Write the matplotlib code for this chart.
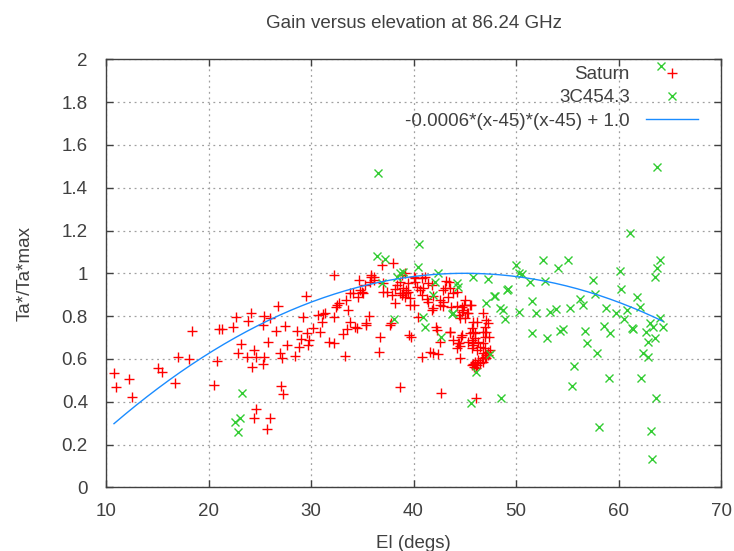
import numpy as np
import matplotlib
matplotlib.use("Agg")
import matplotlib.pyplot as plt

plt.rcParams['font.family'] = ['Liberation Sans', 'DejaVu Sans']

title = "Gain versus elevation at 86.24 GHz"
xlabel = "El (degs)"
ylabel = "Ta*/Ta*max"
label_saturn = "Saturn"
label_3c = "3C454.3"
label_fit = "-0.0006*(x-45)*(x-45) + 1.0"

saturn_el = [
    10.78, 10.98, 12.27, 12.5, 15.1, 15.5, 16.7, 17.0, 18.1, 18.4, 20.57, 20.8, 21.05, 21.3,
    22.4, 22.65, 22.9, 23.2, 23.8, 23.85, 24.1, 24.2, 24.44, 24.6, 24.6, 24.44, 25.3, 25.35,
    25.4, 25.4, 25.8, 26.0, 25.7, 26.0, 26.6, 26.8, 27.0, 27.2, 27.07, 27.3, 27.5, 27.7,
    28.4, 28.6, 28.8, 29.0, 29.25, 29.5, 29.6, 29.7,
    32.27, 30.2, 29.8, 30.7, 30.9, 31.2, 31.4, 31.05, 31.8, 32.2, 32.2, 32.4, 32.5, 32.76,
    33.4, 33.8, 34.1, 33.6, 33.8, 33.5, 33.1, 33.3, 34.3, 34.5, 34.8, 34.94, 35.04, 34.6,
    34.7, 35.27, 35.4, 35.66, 35.85, 35.9, 36.1, 35.8, 36.1, 36.7, 36.6, 36.9, 37.05, 37.05,
    37.44, 38.0, 38.2, 38.36, 38.2, 37.7, 37.85, 38.7, 38.84, 39.17, 38.7, 39.0, 39.27, 39.5,
    39.3, 39.6, 35.4, 37.9, 38.7,
    39.17, 38.84, 39.5, 40.0, 40.15, 40.3, 40.8, 41.1, 40.6, 40.96, 41.3, 41.45, 41.9, 41.87,
    40.47, 39.8, 40.8, 41.6, 41.9, 42.4, 42.2, 42.6, 42.9, 43.2, 43.5, 43.4, 43.56, 43.9,
    44.2, 42.9, 43.7, 43.56, 43.9, 44.3, 44.5, 44.6, 44.4, 44.5, 44.7, 45.0, 44.86, 45.2,
    45.5, 44.5, 45.8, 45.35, 45.7, 46.75, 42.65, 46.1, 41.45, 41.8, 43.1, 40.8, 42.6, 41.8,
    39.66, 40.0, 39.66, 39.0, 40.15, 42.26,
    42.85, 44.2, 44.9, 45.6, 44.7, 45.35, 45.0, 45.8, 46.2, 47.1, 47.3, 47.0, 45.7, 45.8,
    45.5, 46.0, 46.8, 47.1, 47.0, 47.4, 43.6, 44.4, 44.7, 44.2, 45.7, 46.0, 45.8, 46.3,
    46.5, 46.2, 46.8, 47.0, 46.75, 47.07, 47.3, 47.5, 46.65, 46.3, 46.0, 45.8, 45.7, 46.5,
    46.2, 46.8, 47.1, 42.6, 47.0, 47.3, 46.0, 46.1, 45.9,
]
saturn_gain = [
    0.535, 0.467, 0.505, 0.423, 0.556, 0.54, 0.489, 0.61, 0.598, 0.73, 0.478, 0.592, 0.738, 0.741,
    0.748, 0.797, 0.626, 0.67, 0.61, 0.778, 0.813, 0.561, 0.642, 0.61, 0.364, 0.322, 0.575, 0.758,
    0.61, 0.80, 0.678, 0.79, 0.272, 0.322, 0.732, 0.847, 0.626, 0.606, 0.473, 0.434, 0.754, 0.665,
    0.614, 0.732, 0.654, 0.692, 0.797, 0.894, 0.722, 0.665,
    0.992, 0.743, 0.688, 0.805, 0.727, 0.81, 0.816, 0.774, 0.678, 0.676, 0.797, 0.844, 0.852, 0.86,
    0.875, 0.907, 0.907, 0.829, 0.774, 0.738, 0.715, 0.614, 0.748, 0.743, 0.922, 0.914, 0.907, 0.89,
    0.969, 0.945, 0.758, 0.80, 0.983, 0.992, 0.984, 0.96, 0.967, 0.704, 0.631, 1.039, 0.953, 0.914,
    0.914, 1.047, 0.925, 0.945, 0.863, 0.758, 0.766, 0.47, 0.992, 1.0, 0.96, 0.907, 0.907, 0.956,
    0.92, 0.712, 0.766, 0.899, 0.907,
    0.89, 0.899, 0.914, 0.984, 0.961, 0.937, 0.977, 0.984, 0.922, 0.93, 0.879, 0.867, 0.836, 0.894,
    0.794, 0.704, 0.61, 0.634, 0.629, 0.623, 0.748, 0.875, 0.922, 0.965, 0.961, 0.89, 0.93, 0.907,
    0.914, 0.867, 0.844, 0.727, 0.688, 0.673, 0.66, 0.704, 0.805, 0.79, 0.844, 0.875, 0.829, 0.813,
    0.852, 0.603, 0.665, 0.68, 0.65, 0.813, 0.442, 0.416, 0.953, 0.945, 0.93, 0.899, 0.852, 0.828,
    0.883, 0.852, 0.852, 0.93, 0.977, 0.735,
    0.847, 0.847, 0.852, 0.852, 0.82, 0.816, 0.79, 0.774, 0.774, 0.782, 0.766, 0.75, 0.743, 0.727,
    0.72, 0.72, 0.727, 0.727, 0.704, 0.704, 0.727, 0.673, 0.712, 0.65, 0.688, 0.696, 0.673, 0.68,
    0.657, 0.642, 0.673, 0.65, 0.626, 0.618, 0.634, 0.642, 0.603, 0.595, 0.587, 0.576, 0.571, 0.579,
    0.571, 0.587, 0.603, 0.68, 0.61, 0.619, 0.579, 0.556, 0.56,
]

c3_el = [
    23.3, 22.6, 23.1, 22.9, 36.5, 36.4, 37.2, 36.9, 38.7, 38.36, 38.1, 39.0, 40.57, 40.4,
    42.4, 42.1, 44.2, 44.35, 45.8, 47.3, 47.95, 47.07, 49.15, 48.7, 48.9, 41.9, 40.96, 41.1,
    43.9, 42.7, 47.5, 46.1, 45.6, 48.5, 43.8,
    61.1, 50.0, 50.3, 50.6, 52.6, 54.1, 55.1, 49.25, 47.85, 51.4, 52.8, 51.6, 50.3, 51.95,
    53.3, 53.9, 55.3, 56.2, 56.5, 57.5, 57.7, 58.8, 60.15, 60.2, 59.8, 60.5, 60.8, 61.8,
    62.1, 61.3, 61.4, 63.07, 63.4, 64.05, 64.3, 64.05, 63.8, 63.56, 62.7, 62.9, 63.56, 62.4,
    62.9, 51.6, 53.05, 54.3, 54.55, 56.7, 56.9, 58.6, 59.2, 57.9, 55.7, 55.5, 59.1, 62.2,
    63.7, 58.1, 63.2, 63.3, 63.76, 64.15, 48.4,
]
c3_gain = [
    0.442, 0.307, 0.322, 0.26, 1.469, 1.081, 1.065, 0.953, 1.0, 0.984, 0.786, 1.007, 1.137, 1.028,
    1.003, 0.961, 0.953, 0.937, 0.981, 0.972, 0.894, 0.86, 0.922, 0.828, 0.785, 0.899, 0.794, 0.75,
    0.813, 0.704, 0.623, 0.54, 0.395, 0.416, 0.81,
    1.19, 1.039, 1.0, 0.997, 1.062, 1.023, 1.062, 0.925, 0.894, 0.961, 0.965, 0.871, 0.821, 0.813,
    0.818, 0.832, 0.836, 0.879, 0.852, 0.969, 0.903, 0.836, 1.012, 0.925, 0.816, 0.785, 0.828, 0.89,
    0.844, 0.743, 0.738, 0.769, 0.748, 0.79, 0.748, 1.062, 1.023, 0.981, 0.727, 0.68, 0.696, 0.626,
    0.61, 0.72, 0.696, 0.732, 0.738, 0.732, 0.676, 0.754, 0.722, 0.626, 0.567, 0.473, 0.509, 0.509,
    0.416, 0.283, 0.263, 0.131, 1.497, 1.97, 0.836,
]

x_ticks = [10, 20, 30, 40, 50, 60, 70]
y_ticks = [0, 0.2, 0.4, 0.6, 0.8, 1.0, 1.2, 1.4, 1.6, 1.8, 2.0]
y_tick_labels = ["0", "0.2", "0.4", "0.6", "0.8", "1", "1.2", "1.4", "1.6", "1.8", "2"]

text_color = "#404040"
red = "#ff0000"
green = "#33cc33"
blue = "#1a8cff"
fs = 13.5

fig = plt.figure(figsize=(7.34, 5.51), dpi=100)
ax = fig.add_axes([106 / 734, 1 - 487.3 / 551, (721 - 106) / 734, (487.3 - 59.3) / 551])

ax.plot(saturn_el, saturn_gain, linestyle="none", marker="+", color=red,
        markersize=6.5, markeredgewidth=1.0, label=label_saturn, zorder=3)
ax.plot(c3_el, c3_gain, linestyle="none", marker="x", color=green,
        markersize=5.5, markeredgewidth=1.0, label=label_3c, zorder=4)

all_x = np.array(saturn_el + c3_el)
xs = np.linspace(all_x.min(), all_x.max(), 200)
ax.plot(xs, -0.0006 * (xs - 45) * (xs - 45) + 1.0, color=blue, linewidth=1.0,
        label=label_fit, zorder=5)

ax.set_xlim(10, 70)
ax.set_ylim(0, 2)
ax.set_xticks(x_ticks)
ax.set_yticks(y_ticks)
ax.set_yticklabels(y_tick_labels)
ax.grid(True, color="#a0a0a0", linestyle=(0, (1.5, 3)), linewidth=0.9)
ax.set_axisbelow(True)
ax.tick_params(direction="in", length=5, width=1, colors=text_color, labelsize=fs,
               top=True, right=True)
ax.tick_params(axis="x", pad=11)
ax.tick_params(axis="y", pad=13)
for s in ax.spines.values():
    s.set_color("#404040")
    s.set_linewidth(1.0)

ax.set_title(title, fontsize=fs, color=text_color, pad=22.5)
ax.set_xlabel(xlabel, fontsize=fs, color=text_color, labelpad=11)
ax.set_ylabel(ylabel, fontsize=fs, color=text_color, labelpad=20)

leg = ax.legend(loc="upper right", frameon=False, markerfirst=False, numpoints=1,
                fontsize=fs, handlelength=2.8, handletextpad=0.84, labelspacing=0.33,
                borderaxespad=0.0, borderpad=0.4, bbox_to_anchor=(0.975, 1.002))
for t in leg.get_texts():
    t.set_color(text_color)
try:
    for col in leg._legend_box._children[-1]._children:
        col.align = "right"
except Exception:
    pass

fig.savefig("out.png", dpi=100)
